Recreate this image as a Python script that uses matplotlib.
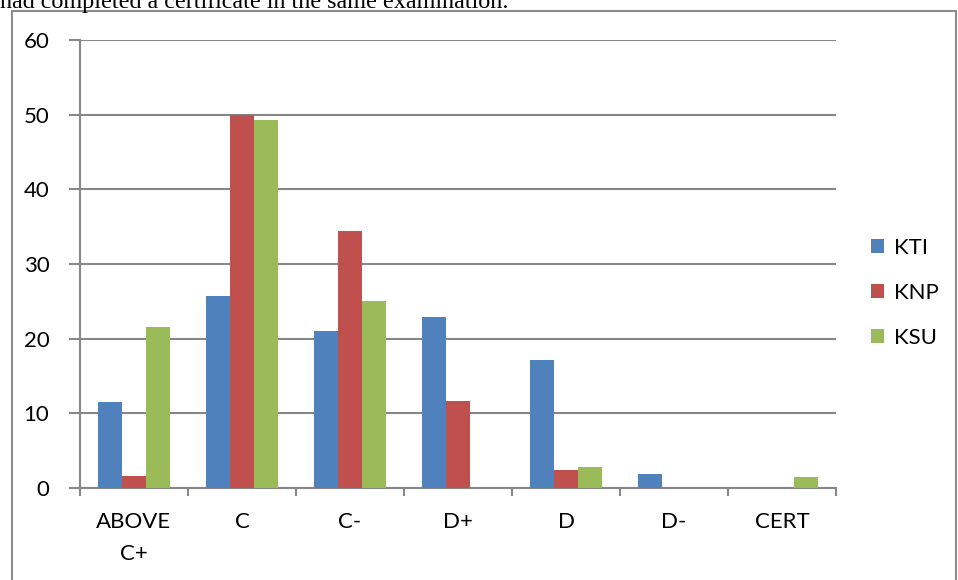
import matplotlib.pyplot as plt
import numpy as np
from matplotlib.patches import Rectangle

plt.rcParams['font.family'] = ['Lato', 'DejaVu Sans']

categorias = ["ABOVE\nC+", "C", "C-", "D+", "D", "D-", "CERT"]
kti = [11.5, 25.7, 21.0, 22.9, 17.1, 1.9, 0.0]
knp = [1.6, 50.0, 34.4, 11.7, 2.4, 0.0, 0.0]
ksu = [21.5, 49.3, 25.0, 0.0, 2.8, 0.0, 1.5]

series = [("KTI", kti, "#4F81BD"), ("KNP", knp, "#C0504D"), ("KSU", ksu, "#9BBB59")]
grid_cor = "#878787"

fig = plt.figure(figsize=(9.58, 5.8), dpi=100)
ax = fig.add_axes([80/958, 1-488/580, (836-80)/958, (488-40)/580])

x = np.arange(len(categorias))
largura = 0.222
for i, (nome, valores, cor) in enumerate(series):
    ax.bar(x + (i-1)*largura, valores, largura, color=cor, label=nome, zorder=3)

ax.set_xlim(-0.5, len(categorias)-0.5)
ax.set_ylim(0, 60)
ax.set_yticks(range(0, 61, 10))
ax.set_xticks(x)
ax.set_xticklabels(categorias, linespacing=1.75, va='top')
ax.set_xticks(np.arange(-0.5, len(categorias), 1), minor=True)
ax.tick_params(axis='x', which='major', length=0, pad=17, labelsize=16)
ax.tick_params(axis='x', which='minor', length=6, width=1.5, color=grid_cor, direction='out')
ax.tick_params(axis='y', length=8, width=1.5, color=grid_cor, pad=14, labelsize=16)

ax.grid(axis='y', color=grid_cor, linewidth=1.5, zorder=0)
for s in ['top', 'right']:
    ax.spines[s].set_visible(False)
for s in ['left', 'bottom']:
    ax.spines[s].set_color(grid_cor)
    ax.spines[s].set_linewidth(1.5)

ax.legend(loc='center left', bbox_to_anchor=(1.02, 0.435), frameon=False,
          fontsize=16, handlelength=0.6, handleheight=0.6, labelspacing=1.12,
          handletextpad=0.45)

# moldura do grafico e texto cortado do documento
fig.patches.append(Rectangle((12/958, -0.05), (956-12)/958, 1.05 - 11/580,
                             transform=fig.transFigure, fill=False,
                             edgecolor="#8c8c8c", linewidth=1.5))
fig.text(0, 1 - 8/580, "had completed a certificate in the same examination.",
         family='Liberation Serif', fontsize=17.4, va='baseline', ha='left')

fig.savefig("out.png", dpi=100)
